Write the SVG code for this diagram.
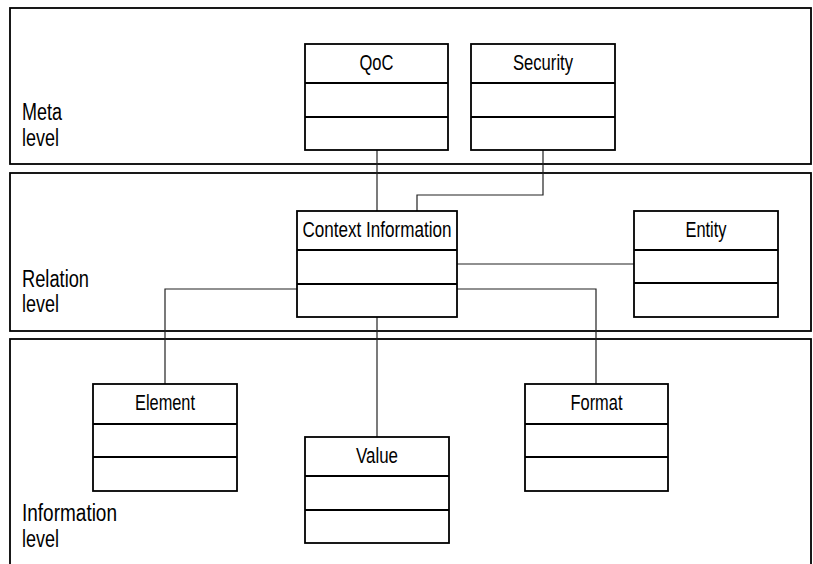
<svg xmlns="http://www.w3.org/2000/svg" width="813" height="564" viewBox="0 0 813 564">
<style>
.panel{fill:#fff;stroke:#000;stroke-width:1.8}
.box{fill:#fff;stroke:#000;stroke-width:1.8}
.div{stroke:#000;stroke-width:1.8}
.conn{fill:none;stroke:#222;stroke-width:1.2}
.lbl{font-family:"Liberation Sans Narrow","Liberation Sans",Arial,sans-serif;font-size:22px;fill:#000;text-anchor:middle}
.lvl{font-family:"Liberation Sans Narrow","Liberation Sans",Arial,sans-serif;font-size:23px;fill:#000}
</style>
<rect width="813" height="564" fill="#fff"/>
<g id="panels">
<g id="meta-level"><rect class="panel" x="10" y="8" width="801" height="156"/><text class="lvl" x="22" y="120" textLength="40" lengthAdjust="spacingAndGlyphs">Meta</text><text class="lvl" x="22" y="146" textLength="37" lengthAdjust="spacingAndGlyphs">level</text></g>
<g id="relation-level"><rect class="panel" x="10" y="173" width="801" height="158"/><text class="lvl" x="22" y="287" textLength="67" lengthAdjust="spacingAndGlyphs">Relation</text><text class="lvl" x="22" y="312" textLength="37" lengthAdjust="spacingAndGlyphs">level</text></g>
<g id="information-level"><rect class="panel" x="10" y="339" width="801" height="260"/><text class="lvl" x="22" y="521" textLength="95" lengthAdjust="spacingAndGlyphs">Information</text><text class="lvl" x="22" y="547" textLength="37" lengthAdjust="spacingAndGlyphs">level</text></g>
</g>
<g id="connectors">
<path class="conn" d="M377 150V211"/>
<path class="conn" d="M543 150V195H417V211"/>
<path class="conn" d="M457 264H634"/>
<path class="conn" d="M297 289H165V384"/>
<path class="conn" d="M457 289H596V384"/>
<path class="conn" d="M377 317V437"/>
</g>
<g id="qoc"><rect class="box" x="305" y="44" width="143" height="106"/><path class="div" d="M305 83H448M305 117H448"/><text class="lbl" x="376.5" y="70" textLength="34" lengthAdjust="spacingAndGlyphs">QoC</text></g>
<g id="security"><rect class="box" x="471" y="44" width="144" height="106"/><path class="div" d="M471 83H615M471 117H615"/><text class="lbl" x="543" y="70" textLength="60" lengthAdjust="spacingAndGlyphs">Security</text></g>
<g id="context-information"><rect class="box" x="297" y="211" width="160" height="106"/><path class="div" d="M297 250H457M297 284H457"/><text class="lbl" x="377" y="237" textLength="149" lengthAdjust="spacingAndGlyphs">Context Information</text></g>
<g id="entity"><rect class="box" x="634" y="211" width="144" height="106"/><path class="div" d="M634 250H778M634 283H778"/><text class="lbl" x="706" y="237" textLength="41" lengthAdjust="spacingAndGlyphs">Entity</text></g>
<g id="element"><rect class="box" x="93" y="384" width="144" height="107"/><path class="div" d="M93 424H237M93 457H237"/><text class="lbl" x="165" y="410" textLength="60" lengthAdjust="spacingAndGlyphs">Element</text></g>
<g id="value"><rect class="box" x="305" y="437" width="144" height="106"/><path class="div" d="M305 476H449M305 510H449"/><text class="lbl" x="377" y="463" textLength="42" lengthAdjust="spacingAndGlyphs">Value</text></g>
<g id="format"><rect class="box" x="525" y="384" width="143" height="107"/><path class="div" d="M525 424H668M525 457H668"/><text class="lbl" x="596.5" y="410" textLength="52" lengthAdjust="spacingAndGlyphs">Format</text></g>
</svg>
